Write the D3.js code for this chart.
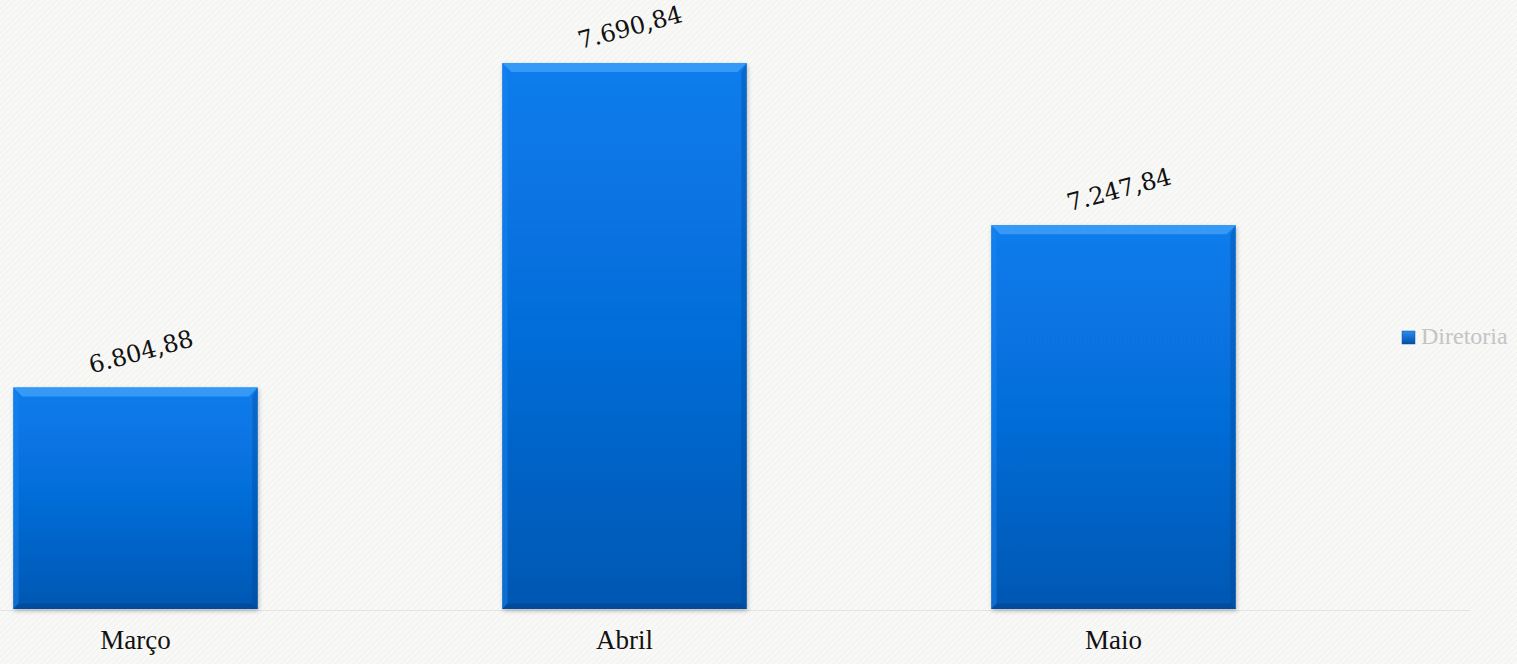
<!DOCTYPE html>
<html>
<head>
<meta charset="utf-8">
<script src="https://cdn.jsdelivr.net/npm/d3@7"></script>
<style>
  html, body { margin: 0; padding: 0; background: #f8f8f7; overflow: hidden; }
  svg { display: block; }
</style>
</head>
<body>
<svg id="chart" width="1517" height="664"></svg>
<script>
const categories = ["Março", "Abril", "Maio"];
const values = [6804.88, 7690.84, 7247.84];
const valueLabels = ["6.804,88", "7.690,84", "7.247,84"];
const seriesName = "Diretoria";
const yDomain = [6200, 7800];

const svg = d3.select("#chart");
const W = 1517, H = 664;

// background texture
const defs = svg.append("defs");
const pat = defs.append("pattern").attr("id", "tex").attr("width", 6).attr("height", 6)
  .attr("patternUnits", "userSpaceOnUse");
pat.append("rect").attr("width", 6).attr("height", 6).attr("fill", "#f8f8f7");
pat.append("path").attr("d", "M0,3 L3,0 M3,6 L6,3").attr("stroke", "#efefec").attr("stroke-width", 1);
svg.append("rect").attr("width", W).attr("height", H).attr("fill", "url(#tex)");

const grad = defs.append("linearGradient").attr("id", "barGrad")
  .attr("x1", 0).attr("y1", 0).attr("x2", 0).attr("y2", 1);
grad.append("stop").attr("offset", "0%").attr("stop-color", "#087ced");
grad.append("stop").attr("offset", "50%").attr("stop-color", "#066dd8");
grad.append("stop").attr("offset", "100%").attr("stop-color", "#0557b2");

const lgGrad = defs.append("linearGradient").attr("id", "lgGrad")
  .attr("x1", 0).attr("y1", 0).attr("x2", 0).attr("y2", 1);
lgGrad.append("stop").attr("offset", "0%").attr("stop-color", "#2a8cf0");
lgGrad.append("stop").attr("offset", "100%").attr("stop-color", "#0450a8");

const filt = defs.append("filter").attr("id", "shadow").attr("x", "-5%").attr("y", "-5%")
  .attr("width", "112%").attr("height", "112%");
filt.append("feDropShadow").attr("dx", 1).attr("dy", 2).attr("stdDeviation", 2)
  .attr("flood-color", "#000").attr("flood-opacity", 0.25);

const x = d3.scaleBand().domain(categories).range([-109, 1358])
  .paddingInner(0.5).paddingOuter(0.25);
const y = d3.scaleLinear().domain(yDomain).range([609, 23]);

// baseline
svg.append("line").attr("x1", 0).attr("x2", 1470)
  .attr("y1", y(yDomain[0]) + 1.5).attr("y2", y(yDomain[0]) + 1.5)
  .attr("stroke", "#e4e4e4").attr("stroke-width", 1);

const data = categories.map((c, i) => ({ c, v: values[i], label: valueLabels[i] }));

const bars = svg.append("g").selectAll("g").data(data).join("g");
bars.append("rect")
  .attr("x", d => x(d.c)).attr("y", d => y(d.v))
  .attr("width", x.bandwidth()).attr("height", d => y(yDomain[0]) - y(d.v))
  .attr("fill", "url(#barGrad)").attr("filter", "url(#shadow)");
const bev = 9;
// top bevel
bars.append("path")
  .attr("d", d => {
    const x0 = x(d.c), x1 = x0 + x.bandwidth(), t = y(d.v);
    return `M${x0},${t} L${x1},${t} L${x1 - bev},${t + bev} L${x0 + bev},${t + bev} Z`;
  }).attr("fill", "#3a9cf6").attr("opacity", 0.9);
// left bevel
bars.append("path")
  .attr("d", d => {
    const x0 = x(d.c), t = y(d.v), b = y(yDomain[0]);
    return `M${x0},${t} L${x0 + bev * 0.6},${t + bev} L${x0 + bev * 0.6},${b - bev * 0.6} L${x0},${b} Z`;
  }).attr("fill", "#1a84ee").attr("opacity", 0.5);
// right bevel
bars.append("path")
  .attr("d", d => {
    const x1 = x(d.c) + x.bandwidth(), t = y(d.v), b = y(yDomain[0]);
    return `M${x1},${t} L${x1 - bev * 0.6},${t + bev} L${x1 - bev * 0.6},${b - bev * 0.6} L${x1},${b} Z`;
  }).attr("fill", "#03468f").attr("opacity", 0.35);
// bottom bevel
bars.append("path")
  .attr("d", d => {
    const x0 = x(d.c), x1 = x0 + x.bandwidth(), b = y(yDomain[0]);
    return `M${x0},${b} L${x1},${b} L${x1 - bev * 0.6},${b - bev * 0.6} L${x0 + bev * 0.6},${b - bev * 0.6} Z`;
  }).attr("fill", "#033f85").attr("opacity", 0.5);

// value labels
bars.append("text")
  .attr("transform", d => `translate(${x(d.c) + x.bandwidth() / 2 + 6},${y(d.v) - 34}) rotate(-15)`)
  .attr("text-anchor", "middle").attr("dominant-baseline", "middle")
  .attr("font-family", "'DejaVu Serif', 'Liberation Serif', serif")
  .attr("font-size", 24).attr("fill", "#111")
  .text(d => d.label);

// category axis
const xAxis = svg.append("g").attr("transform", `translate(0,${y(yDomain[0])})`)
  .call(d3.axisBottom(x).tickSize(0).tickPadding(21));
xAxis.select(".domain").remove();
xAxis.selectAll("text")
  .attr("font-family", "'Liberation Serif', 'Times New Roman', serif")
  .attr("font-size", 27).attr("fill", "#111");

// legend
const lg = svg.append("g").attr("transform", "translate(1402,331)");
lg.append("rect").attr("width", 13).attr("height", 13).attr("fill", "url(#lgGrad)")
  .attr("stroke", "#0a4f9e").attr("stroke-width", 0.5);
lg.append("text").attr("x", 19).attr("y", 7).attr("dominant-baseline", "middle")
  .attr("font-family", "'Liberation Serif', 'Times New Roman', serif")
  .attr("font-size", 24).attr("fill", "#c4c4c4").text(seriesName);
</script>
</body>
</html>
